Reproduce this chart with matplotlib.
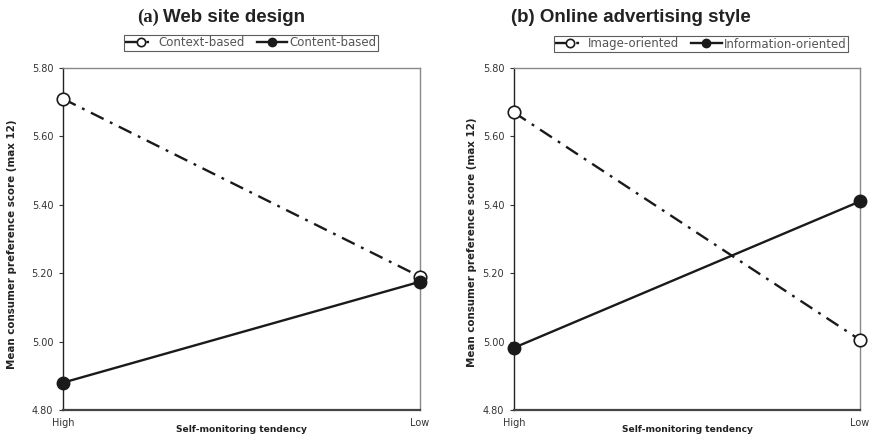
import matplotlib
matplotlib.use('Agg')
import matplotlib.pyplot as plt
from matplotlib.ticker import FormatStrFormatter

# ── Data ─────────────────────────────────────────────
levels = ['High', 'Low']

design_series = ['Context-based', 'Content-based']
design_context = [5.71, 5.19]
design_content = [4.88, 5.175]

ad_series = ['Image-oriented', 'Information-oriented']
ad_image = [5.67, 5.005]
ad_info = [4.982, 5.41]

y_ticks = [4.80, 5.00, 5.20, 5.40, 5.60, 5.80]

DASHDOT = (0, (6, 3, 1.2, 3))
LINE_COLOR = '#1a1a1a'
TEXT_COLOR = '#333333'
YLABEL = 'Mean consumer preference score (max 12)'

fig = plt.figure(figsize=(8.73, 4.40), dpi=100)


def draw_panel(ax, open_vals, filled_vals, names, legend_box):
    x = list(range(len(levels)))
    l1, = ax.plot(x, open_vals, linestyle=DASHDOT, color=LINE_COLOR, lw=1.7,
                  marker='o', markersize=9, markerfacecolor='white',
                  markeredgecolor=LINE_COLOR, markeredgewidth=1.2,
                  clip_on=False, zorder=3)
    l2, = ax.plot(x, filled_vals, linestyle='-', color=LINE_COLOR, lw=1.7,
                  marker='o', markersize=9, markerfacecolor=LINE_COLOR,
                  markeredgecolor=LINE_COLOR, clip_on=False, zorder=4)
    ax.set_xlim(0, 1)
    ax.set_ylim(4.80, 5.80)
    ax.set_yticks(y_ticks)
    ax.yaxis.set_major_formatter(FormatStrFormatter('%.2f'))
    ax.set_xticks(x)
    ax.set_xticklabels(levels)
    ax.tick_params(axis='both', labelsize=7, colors=TEXT_COLOR, length=3,
                   width=0.8, pad=4)
    ax.tick_params(axis='x', length=0, pad=6)

    for side in ('top', 'right'):
        ax.spines[side].set_color('#888888')
        ax.spines[side].set_linewidth(1.0)
    ax.spines['left'].set_color('#222222')
    ax.spines['bottom'].set_color('#444444')
    ax.spines['left'].set_linewidth(1.0)
    ax.spines['bottom'].set_linewidth(1.6)

    ax.set_xlabel('Self-monitoring tendency', fontsize=6.6, fontweight='bold',
                  color='#222222')
    ax.xaxis.set_label_coords(0.5, -0.045)

    leg = fig.legend([l1, l2], names, loc='center',
                     bbox_to_anchor=legend_box, ncol=2, fontsize=8.5,
                     frameon=True, fancybox=False, handlelength=2.6,
                     handletextpad=0.2, columnspacing=1.0,
                     borderpad=0.1, borderaxespad=0)
    leg.get_frame().set_edgecolor('#333333')
    leg.get_frame().set_linewidth(0.8)
    for t in leg.get_texts():
        t.set_color('#555555')
    for h in leg.legend_handles:
        h.set_markersize(6)


# ── Panel (a) ─────────────────────────────────────────
ax1 = fig.add_axes([63 / 873, 1 - 410 / 440, 357 / 873, 342 / 440])
draw_panel(ax1, design_context, design_content, design_series,
           (251 / 873, 1 - 43 / 440))
fig.text(12 / 873, 1 - 244 / 440, YLABEL, rotation=90, fontsize=7.4,
         fontweight='bold', ha='center', va='center', color='#222222')

# ── Panel (b) ─────────────────────────────────────────
ax2 = fig.add_axes([514 / 873, 1 - 410 / 440, 346 / 873, 342 / 440])
draw_panel(ax2, ad_image, ad_info, ad_series,
           (701 / 873, 1 - 44 / 440))
fig.text(472 / 873, 1 - 242 / 440, YLABEL, rotation=90, fontsize=7.4,
         fontweight='bold', ha='center', va='center', color='#222222')

# ── Titles ────────────────────────────────────────────
fig.text(159 / 873, 1 - 17 / 440, '(a)', family='Liberation Serif',
         fontweight='bold', fontsize=13.5, ha='right', va='center',
         color='#222222')
fig.text(163 / 873, 1 - 17 / 440, 'Web site design', family='Liberation Sans',
         fontweight='bold', fontsize=13.5, ha='left', va='center',
         color='#222222')
fig.text(631 / 873, 1 - 17 / 440, '(b) Online advertising style',
         family='Liberation Sans', fontweight='bold', fontsize=13.5,
         ha='center', va='center', color='#222222')

fig.savefig('out.png', dpi=100)
